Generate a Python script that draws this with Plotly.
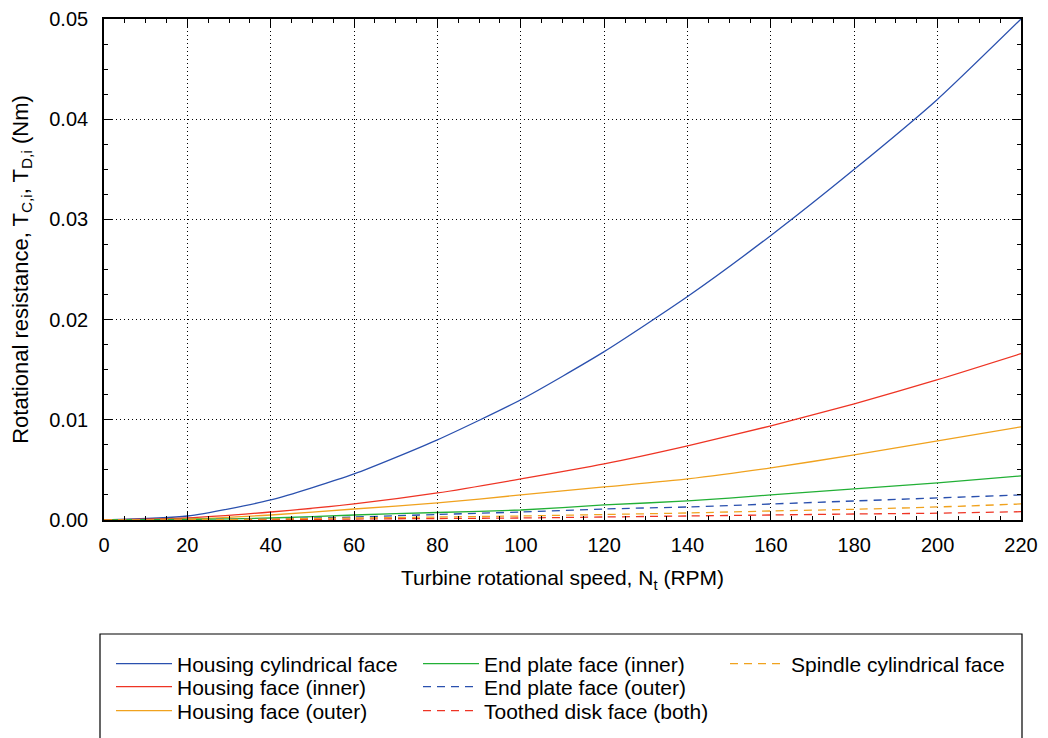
import plotly.graph_objects as go

# Turbine speed (RPM)
speed_rpm = [0, 20, 40, 60, 80, 100, 120, 140, 160, 180, 200, 220]

# Rotational resistance per surface (Nm)
housing_cylindrical = [0, 0.0004, 0.0020, 0.0046, 0.0080, 0.0120, 0.0168, 0.0223, 0.0284, 0.0350, 0.0420, 0.0500]
housing_face_inner = [0, 0.0002, 0.0008, 0.0016, 0.0027, 0.0041, 0.0056, 0.0074, 0.0094, 0.0116, 0.0140, 0.0166]
housing_face_outer = [0, 0.0001, 0.0005, 0.0011, 0.0017, 0.0025, 0.0033, 0.0041, 0.0052, 0.0065, 0.0079, 0.0093]
end_plate_inner = [0, 0.00005, 0.0002, 0.0005, 0.00075, 0.0010, 0.0015, 0.0019, 0.0025, 0.0031, 0.0037, 0.0044]
end_plate_outer = [0, 0.00003, 0.0001, 0.0003, 0.00055, 0.0008, 0.0011, 0.0013, 0.0016, 0.0019, 0.0022, 0.0025]
toothed_disk = [0, 0.00001, 0.00003, 0.0001, 0.00015, 0.0002, 0.0003, 0.0004, 0.0005, 0.0006, 0.00068, 0.00083]
spindle_cylindrical = [0, 0.00002, 0.0001, 0.0002, 0.0003, 0.0004, 0.00055, 0.0007, 0.0009, 0.00107, 0.0013, 0.0016]

BLUE = "#2a50ae"
RED = "#ee3424"
ORANGE = "#f0a21e"
GREEN = "#22b036"
FONT = "Arial, Liberation Sans, sans-serif"

W, H = 1048, 738
L, R, T, B = 104, 27, 19, 218
pw, ph = W - L - R, H - T - B


def px_x(X):
    return (X - L) / pw


def px_y(Y):
    return (H - B - Y) / ph


# legend slots: (left pixel of the text column, row centre pixel)
COL_X = [177, 484, 791]
ROW_Y = [664, 687, 711]

series = [
    ("Housing cylindrical face", housing_cylindrical, BLUE, "solid", 0, 0),
    ("Housing face (inner)", housing_face_inner, RED, "solid", 0, 1),
    ("Housing face (outer)", housing_face_outer, ORANGE, "solid", 0, 2),
    ("End plate face (inner)", end_plate_inner, GREEN, "solid", 1, 0),
    ("End plate face (outer)", end_plate_outer, BLUE, "8px,6px", 1, 1),
    ("Toothed disk face (both)", toothed_disk, RED, "8px,6px", 1, 2),
    ("Spindle cylindrical face", spindle_cylindrical, ORANGE, "8px,6px", 2, 0),
]

ITEM_W = 56
legend_layouts = {}
fig = go.Figure()
for i, (name, values, color, dash, col, row) in enumerate(series):
    leg = "legend" if i == 0 else f"legend{i + 1}"
    fig.add_trace(go.Scatter(
        x=speed_rpm, y=values, name=name, mode="lines", showlegend=True,
        line=dict(color=color, width=1.3, dash=dash, shape="spline", smoothing=0.6),
        legend=leg,
    ))
    legend_layouts[leg] = dict(
        font=dict(family=FONT, size=21, color="black"),
        bgcolor="rgba(0,0,0,0)", borderwidth=0, itemwidth=ITEM_W,
        xanchor="left", yanchor="middle",
        x=px_x(COL_X[col] - ITEM_W - 10), y=px_y(ROW_Y[row]),
    )

axis_common = dict(
    showline=True, linecolor="black", linewidth=1.6, mirror="ticks",
    ticks="inside", ticklen=8, tickwidth=1, tickcolor="black",
    showgrid=True, gridcolor="black", gridwidth=1, griddash="1px,3px",
    zeroline=False,
    tickfont=dict(family=FONT, size=20, color="black"),
)

fig.update_layout(
    width=W, height=H,
    margin=dict(l=L, r=R, t=T, b=B, autoexpand=False),
    paper_bgcolor="white", plot_bgcolor="white",
    showlegend=True,
    font=dict(family=FONT, size=20, color="black"),
    xaxis=dict(
        axis_common, range=[0, 220], dtick=20, tick0=0, ticklabelstandoff=6,
        minor=dict(dtick=5, ticks="inside", ticklen=4, tickcolor="black", showgrid=False),
        title=dict(text="Turbine rotational speed, N<sub>t</sub> (RPM)",
                   font=dict(family=FONT, size=21, color="black"), standoff=16),
    ),
    yaxis=dict(
        axis_common, range=[0, 0.05], dtick=0.01, tick0=0, tickformat=".2f",
        ticklabelstandoff=10,
        minor=dict(dtick=0.0025, ticks="inside", ticklen=4, tickcolor="black", showgrid=False),
        title=dict(text="Rotational resistance, T<sub>C,i</sub>, T<sub>D,i</sub> (Nm)",
                   font=dict(family=FONT, size=22, color="black"), standoff=15),
    ),
    shapes=[dict(type="rect", xref="paper", yref="paper",
                 x0=px_x(100), x1=px_x(1022), y0=px_y(760), y1=px_y(634),
                 line=dict(color="black", width=1.2), fillcolor="rgba(0,0,0,0)")],
    **legend_layouts,
)

fig.write_html("out.html")
